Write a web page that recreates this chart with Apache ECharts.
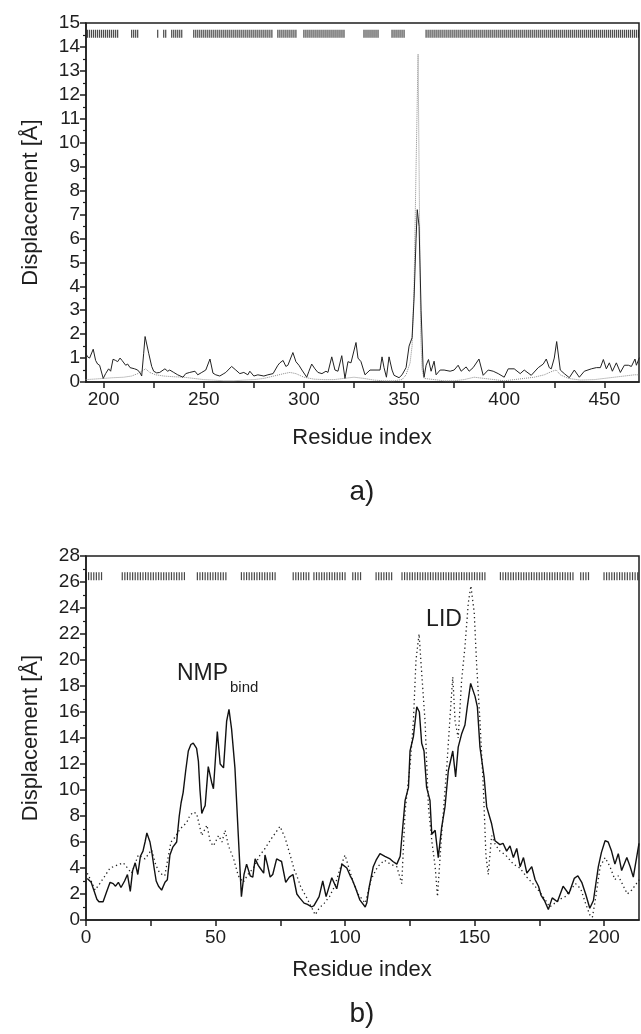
<!DOCTYPE html>
<html><head><meta charset="utf-8">
<script src="https://cdn.jsdelivr.net/npm/echarts@6/dist/echarts.min.js"></script>
<style>html,body{margin:0;padding:0;background:#fff}#c{width:641px;height:1034px}</style>
</head><body><div id="c"></div>
<script>
// ---------- panel a) ----------
const aXLabels = [200, 250, 300, 350, 400, 450];
const aXTicks = [200, 225, 250, 275, 300, 325, 350, 375, 400, 425, 450];
const aSolid = [[191,1.2],[192,1.05],[193,1.0],[194.8,1.37],[196,0.9],[197,0.75],[198,0.7],[199.8,0.15],[201,0.35],[202.5,0.55],[203.5,0.45],[204.7,0.95],[206,0.9],[207,0.85],[208.2,1.0],[209.2,0.9],[210,0.95],[211,0.7],[212,0.75],[213.2,0.6],[214,0.6],[215.5,0.55],[217,0.5],[218.2,0.38],[219,0.25],[220,1.2],[220.7,1.9],[221.5,1.85],[222.5,1.2],[224,0.65],[225,0.45],[226.5,0.38],[228,0.4],[230.6,0.55],[232,0.45],[233,0.5],[235,0.4],[237,0.3],[239.6,0.2],[241,0.35],[243,0.4],[245.6,0.45],[247,0.3],[249,0.4],[251,0.5],[253.1,0.96],[254.6,0.37],[256,0.3],[258,0.25],[260,0.35],[261,0.4],[263.9,0.65],[266,0.5],[268,0.35],[270,0.4],[272,0.3],[273,0.45],[275,0.25],[277,0.3],[280,0.25],[282,0.3],[284.6,0.35],[287,0.7],[288,0.8],[289.6,0.9],[291,0.65],[292,0.7],[294.5,1.23],[296,0.85],[297.5,0.7],[299,0.5],[301.4,0.2],[302.5,0.45],[303.9,0.75],[305.5,0.55],[307,0.4],[309,0.35],[311,0.45],[312,0.4],[313.9,1.05],[315.5,0.5],[317,0.45],[318.9,1.1],[320.5,0.15],[322,0.85],[323.5,0.8],[326,1.65],[327,1.0],[328.5,0.85],[330.5,0.3],[333,0.5],[336.5,0.5],[338,0.5],[339,1.05],[340,0.6],[341.2,0.2],[342.5,1.05],[344,0.5],[345,0.28],[347.5,0.18],[349,0.3],[351,0.6],[352.5,1.5],[354,1.85],[355,3.5],[356,6],[356.6,7.2],[357.5,6.5],[358.5,3],[359.5,0.6],[360,0.2],[361,0.7],[362.2,0.94],[363.5,0.45],[365,0.87],[366,0.3],[368,0.5],[370,0.5],[373,0.45],[375,0.5],[377,0.7],[378.5,0.45],[381,0.63],[382.5,0.45],[384.5,0.6],[387.4,0.96],[389.5,0.28],[392,0.5],[394.5,0.45],[397,0.35],[400,0.2],[402,0.55],[405,0.55],[408,0.35],[410,0.5],[413.5,0.28],[417,0.6],[419.5,0.75],[421,0.96],[422.5,0.6],[423.5,0.55],[425,1.0],[426.2,1.69],[428,0.5],[430,0.35],[432.5,0.18],[435,0.5],[437.5,0.2],[440,0.45],[443.5,0.55],[446,0.6],[448,0.6],[449.5,0.94],[451,0.55],[452.5,0.8],[454,0.45],[456,0.8],[458,0.4],[460,0.7],[462,0.7],[463.5,0.65],[465.3,0.96],[466,0.7],[467.5,1.02]];
const aDotted = [[191,0.1],[195,0.12],[200,0.15],[205,0.18],[210,0.2],[214,0.25],[217,0.35],[219,0.45],[221,0.55],[223,0.4],[226,0.3],[230,0.25],[235,0.22],[240,0.2],[245,0.15],[250,0.1],[255,0.08],[260,0.05],[265,0.05],[270,0.08],[275,0.1],[280,0.15],[285,0.25],[290,0.35],[293,0.4],[296,0.35],[300,0.2],[305,0.12],[310,0.1],[315,0.1],[320,0.15],[325,0.2],[330,0.15],[335,0.08],[340,0.05],[345,0.05],[349,0.1],[351,0.3],[353,0.8],[354,1.5],[355,4],[356,9],[357,13.7],[357.6,8],[358.3,2],[359,0.5],[360,0.15],[365,0.1],[370,0.05],[375,0.05],[380,0.1],[385,0.2],[390,0.15],[395,0.1],[400,0.05],[405,0.1],[410,0.15],[415,0.2],[420,0.3],[424,0.45],[426,0.5],[428,0.3],[432,0.15],[438,0.08],[445,0.1],[450,0.15],[455,0.2],[460,0.25],[465,0.3],[467.5,0.3]];
const aStripRanges = [[192,207],[214,217],[227,227],[230,231],[234,239],[245,284],[287,296],[300,320],[330,337],[344,350],[361,467]];
const aStripY = 14.55;

// ---------- panel b) ----------
const bXLabels = [0, 50, 100, 150, 200];
const bXTicks = [0, 25, 50, 75, 100, 125, 150, 175, 200];
const bSolid = [[0.5,3.2],[2,2.9],[3,2.3],[4.2,1.6],[5,1.4],[6.6,1.4],[8,2.2],[9.3,2.9],[10.5,2.8],[11.4,2.6],[12.5,2.9],[13.5,2.5],[14.9,3.0],[16,3.5],[17.1,2.2],[18,3.8],[19,4.4],[20,3.5],[21,4.9],[22,5.3],[22.8,6.0],[23.5,6.7],[24.7,6.0],[25.5,5.1],[26.3,4.0],[27.1,3.0],[28,2.6],[29.2,2.3],[30.5,2.9],[31.4,3.1],[32.4,5.0],[33.5,5.6],[35,6.0],[36,8.0],[36.7,9.0],[37.5,9.8],[38.5,11.5],[39.5,13.0],[40.5,13.5],[41.4,13.6],[42.7,13.2],[43.4,12.2],[44,10],[44.7,8.2],[45.5,8.6],[46,8.8],[47.2,11.8],[48.5,10.6],[49.2,10.1],[50,12.5],[50.7,14.5],[51.8,12.0],[53.1,11.7],[54.3,15.3],[55.2,16.2],[56.2,14.7],[57.5,11.7],[58.8,6.5],[60,1.8],[61,3.5],[62,4.3],[63.4,3.4],[64.4,3.3],[65.3,4.7],[66.5,4.2],[67.2,4.0],[68.6,3.6],[69.1,5.0],[70,4.3],[71.1,3.3],[72.1,3.5],[73.6,4.7],[74.5,4.6],[75.5,4.5],[77.1,2.9],[78.5,3.3],[79.9,3.5],[81.4,2.0],[82.5,1.7],[84.2,1.3],[85.5,1.2],[87.1,1.0],[88,1.1],[90,1.8],[91.4,3.0],[92.7,1.8],[94.9,3.25],[96.8,2.4],[98.8,4.3],[100.7,4.0],[102,3.4],[102.8,3.1],[104,2.5],[105.7,1.55],[107.8,1.0],[108.4,1.3],[109.3,2.5],[110.9,4.1],[112,4.6],[113.5,5.1],[115.4,4.9],[117.4,4.7],[118.5,4.5],[120,4.3],[121.3,4.9],[123.2,9.2],[124.5,10.2],[125.1,13.0],[126.4,14.1],[127.7,16.4],[128.7,16.0],[129.6,13.6],[130.5,13.0],[131.5,10.2],[132.8,9.2],[133.5,6.6],[134.8,6.9],[136,4.8],[137.3,7.1],[138.6,8.7],[139.9,11.5],[141.6,13.0],[142.7,11.0],[143.7,13.3],[145,14.3],[146.3,15.0],[147.2,16.4],[148.5,18.2],[150.2,17.2],[151.1,16.4],[152.1,13.3],[153.7,11.0],[154.7,8.7],[156.6,7.4],[157.9,6.1],[159.8,5.8],[161,5.9],[162.4,5.3],[163.7,5.7],[165,4.8],[166.3,5.5],[167.6,4.1],[168.9,4.8],[170.2,3.6],[172.1,4.1],[173.4,3.1],[174.7,2.6],[175.7,1.9],[177,1.5],[178.5,0.8],[180,1.7],[182,1.4],[184.2,2.6],[186.4,2.0],[188.5,3.2],[189.9,3.4],[191.4,2.9],[192.9,2.0],[194.5,0.9],[195.9,1.5],[197.8,4.1],[199,5.2],[200.4,6.1],[201.6,6.0],[202.9,5.3],[204.2,4.3],[205.5,5.1],[206.8,3.8],[208.8,4.8],[210.1,4.1],[211.3,3.3],[213.5,5.9]];
const bDotted = [[0.5,3.6],[2,3.0],[3.5,2.3],[5.3,2.8],[7,3.3],[9.3,4.0],[11.8,4.2],[14.4,4.4],[16,4.0],[17.6,3.6],[20.2,5.0],[22.8,4.7],[25.3,5.4],[27,4.2],[28.5,3.6],[30.4,3.4],[32.8,6.0],[34.5,6.4],[36.3,7.0],[38.9,7.5],[40,8.0],[41.4,8.3],[42.7,8.2],[44.7,6.5],[46.7,7.3],[48,6.0],[49.2,5.7],[51.2,6.5],[52.5,6.0],[53.7,6.9],[55,5.7],[57,4.7],[58.8,3.4],[60.7,2.9],[62.5,3.5],[64.6,4.0],[67.2,5.0],[69.1,5.5],[71.7,6.3],[73.5,6.8],[74.9,7.2],[76.9,6.3],[78.8,5.0],[80.5,3.8],[81.4,3.4],[83,2.5],[85,1.8],[87,1.0],[88.5,0.4],[90,0.9],[92,1.3],[94,1.8],[96,2.6],[98.5,4.2],[100,5.0],[101.5,4.0],[103,3.0],[105,2.0],[107.8,1.3],[109,2.2],[110,3.1],[112.6,4.1],[115.2,4.6],[117.5,4.3],[120,4.1],[121.9,2.8],[123.2,8.4],[125.1,11.8],[126.4,15.3],[127.4,20.0],[128.6,22.0],[129.6,19],[130.9,15.3],[132.2,8.7],[133.5,6.1],[134.8,4.1],[135.7,1.8],[137.3,6.6],[139.3,11.8],[140.8,16.4],[141.6,18.7],[142.5,15.3],[143.7,14.0],[145,18.4],[146.3,21.0],[147.6,24.4],[148.6,25.7],[149.9,23.6],[150.8,19.7],[152.1,15.3],[153.4,10.2],[154.4,5.0],[155.3,3.5],[156.6,6.5],[158,5.8],[159.8,5.3],[162,5.0],[165,4.3],[167.5,4.0],[170.2,3.3],[172.5,2.8],[175.4,2.1],[177.5,1.5],[179,1.0],[181,1.3],[183,1.6],[185,1.8],[187,2.3],[189,2.8],[191,2.4],[193,1.2],[194.5,0.4],[195.5,0.2],[196.6,1.5],[198.5,4.1],[200.4,4.8],[202.3,4.1],[204.2,3.1],[205.5,3.4],[207.5,2.6],[209,2.0],[210.7,2.3],[212.5,2.8],[213.6,3.1]];
const bStripRanges = [[0,3],[4,6],[14,28],[29,38],[43,54],[60,73],[80,84],[85,86],[88,100],[103,106],[112,118],[122,154],[160,188],[191,194],[200,213]];
const bStripY = 26.45;

const FONT = '"Liberation Sans", Arial, Helvetica, sans-serif';
const INK = '#1e1e1e';

function expandRanges(ranges, y) {
  const out = [];
  ranges.forEach(([a, b]) => { for (let r = a; r <= b; r++) out.push([r, y]); });
  return out;
}

const chart = echarts.init(document.getElementById('c'));

function xAxisCfg(grid, min, max, ticks, labels) {
  return {
    gridIndex: grid, type: 'value', min: min, max: max,
    axisLine: {show: true, onZero: false, lineStyle: {color: INK, width: 1.5}},
    axisTick: {show: true, customValues: ticks, length: 6, lineStyle: {color: INK, width: 1.5}},
    axisLabel: {customValues: labels, fontSize: 19, color: INK, fontFamily: FONT, margin: 8},
    splitLine: {show: false}
  };
}
function yAxisCfg(grid, max, interval) {
  return {
    gridIndex: grid, type: 'value', min: 0, max: max, interval: interval,
    name: 'Displacement [Å]', nameLocation: 'middle', nameGap: 44,
    nameTextStyle: {fontSize: 22, color: INK, fontFamily: FONT},
    axisLine: {show: true, lineStyle: {color: INK, width: 1.5}},
    axisTick: {show: true, length: 6, lineStyle: {color: INK, width: 1.5}},
    minorTick: {show: true, splitNumber: 2, length: 3, lineStyle: {color: INK, width: 1.2}},
    axisLabel: {fontSize: 19, color: INK, fontFamily: FONT, margin: 6},
    splitLine: {show: false}, minorSplitLine: {show: false}
  };
}

chart.setOption({
  animation: false,
  backgroundColor: '#fff',
  grid: [
    {left: 86, top: 23, width: 553, height: 359, show: true, borderColor: INK, borderWidth: 1.5, backgroundColor: 'transparent'},
    {left: 86, top: 556, width: 553, height: 364, show: true, borderColor: INK, borderWidth: 1.5, backgroundColor: 'transparent'}
  ],
  xAxis: [
    xAxisCfg(0, 191.2, 467.3, aXTicks, aXLabels),
    xAxisCfg(1, 0, 213.5, bXTicks, bXLabels)
  ],
  yAxis: [yAxisCfg(0, 15, 1), yAxisCfg(1, 28, 2)],
  series: [
    {type: 'line', xAxisIndex: 0, yAxisIndex: 0, data: aDotted, showSymbol: false, lineStyle: {color: '#8a8a8a', width: 1, type: 'dotted'}, z: 2},
    {type: 'line', xAxisIndex: 0, yAxisIndex: 0, data: aSolid, showSymbol: false, lineStyle: {color: '#222', width: 1}, z: 3},
    {type: 'scatter', xAxisIndex: 0, yAxisIndex: 0, data: expandRanges(aStripRanges, aStripY), symbol: 'rect', symbolSize: [1.2, 8], itemStyle: {color: '#1a1a1a'}, z: 4},
    {type: 'line', xAxisIndex: 1, yAxisIndex: 1, data: bDotted, showSymbol: false, lineStyle: {color: '#222', width: 1.3, type: [1.3, 3]}, z: 2},
    {type: 'line', xAxisIndex: 1, yAxisIndex: 1, data: bSolid, showSymbol: false, lineStyle: {color: '#111', width: 1.4}, z: 3},
    {type: 'scatter', xAxisIndex: 1, yAxisIndex: 1, data: expandRanges(bStripRanges, bStripY), symbol: 'rect', symbolSize: [1.2, 8], itemStyle: {color: '#1a1a1a'}, z: 4}
  ],
  graphic: [
    {type: 'text', x: 362, y: 438, style: {text: 'Residue index', fontSize: 22, fill: INK, fontFamily: FONT, align: 'center', verticalAlign: 'middle'}},
    {type: 'text', x: 362, y: 492, style: {text: 'a)', fontSize: 28, fill: INK, fontFamily: FONT, align: 'center', verticalAlign: 'middle'}},
    {type: 'text', x: 362, y: 970, style: {text: 'Residue index', fontSize: 22, fill: INK, fontFamily: FONT, align: 'center', verticalAlign: 'middle'}},
    {type: 'text', x: 362, y: 1014, style: {text: 'b)', fontSize: 28, fill: INK, fontFamily: FONT, align: 'center', verticalAlign: 'middle'}},
    {type: 'text', x: 228, y: 685, style: {text: 'NMP', fontSize: 23, fill: INK, fontFamily: FONT, align: 'right', verticalAlign: 'bottom'}},
    {type: 'text', x: 230, y: 695, style: {text: 'bind', fontSize: 15, fill: INK, fontFamily: FONT, align: 'left', verticalAlign: 'bottom'}},
    {type: 'text', x: 444, y: 620, style: {text: 'LID', fontSize: 23, fill: INK, fontFamily: FONT, align: 'center', verticalAlign: 'middle'}}
  ]
});
</script>
</body></html>
